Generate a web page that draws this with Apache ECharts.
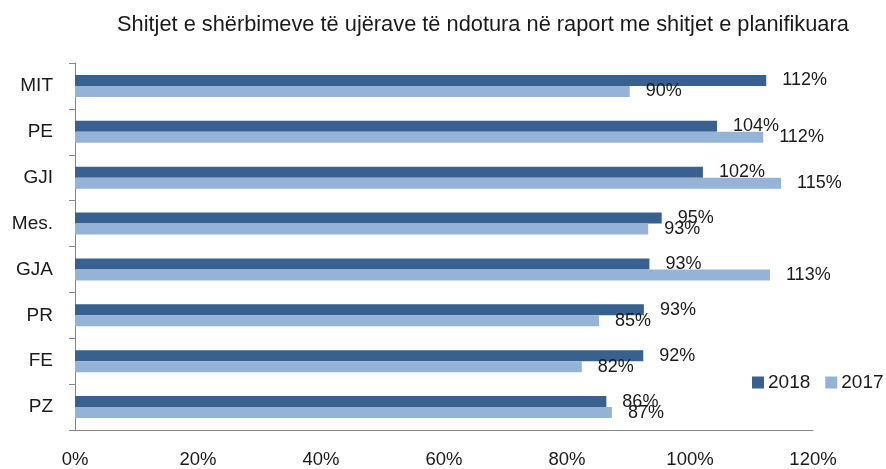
<!DOCTYPE html>
<html>
<head>
<meta charset="utf-8">
<script src="https://cdn.jsdelivr.net/npm/echarts@6/dist/echarts.min.js"></script>
<style>
  html, body { margin: 0; padding: 0; background: #fff; }
  #chart { width: 886px; height: 469px; }
</style>
</head>
<body>
<div id="chart"></div>
<script>
// kategoritë nga lart poshtë
const categories = ["MIT", "PE", "GJI", "Mes.", "GJA", "PR", "FE", "PZ"];
const seriesNames = ["2018", "2017"];
const values2018 = [112.4, 104.4, 102.1, 95.4, 93.4, 92.5, 92.4, 86.4];
const values2017 = [90.2, 111.9, 114.8, 93.2, 113.0, 85.2, 82.4, 87.3];
const xTicks = [0, 20, 40, 60, 80, 100, 120];

const font = "'Liberation Sans', Arial, sans-serif";
const dark = "#386190";
const light = "#95b3d7";

let myChart = echarts.init(document.getElementById("chart"));

const labelOpt = {
  show: true,
  position: "right",
  distance: 16,
  color: "#1a1a1a",
  fontFamily: font,
  fontSize: 18,
  formatter: (p) => Math.round(p.value) + "%",
};

let options = {
  animation: false,
  title: {
    text: "Shitjet e shërbimeve të ujërave të ndotura në raport me shitjet e planifikuara",
    left: 112,
    top: 9,
    textStyle: {
      color: "#1a1a1a",
      fontFamily: font,
      fontSize: 21.8,
      fontWeight: "normal",
    },
  },
  legend: {
    data: seriesNames,
    orient: "horizontal",
    left: 747,
    top: 368,
    width: 200,
    itemWidth: 12,
    itemHeight: 12,
    itemGap: 15,
    icon: "rect",
    textStyle: { color: "#1a1a1a", fontFamily: font, fontSize: 19, padding: [0, 0, 0, -1] },
  },
  grid: { left: 75, right: 73, top: 63, bottom: 39, containLabel: false },
  xAxis: {
    type: "value",
    min: xTicks[0],
    max: xTicks[xTicks.length - 1],
    interval: 20,
    axisLine: { show: true, lineStyle: { color: "#868686", width: 1 } },
    axisTick: { show: false },
    splitLine: { show: false },
    axisLabel: {
      margin: 20,
      color: "#1a1a1a",
      fontFamily: font,
      fontSize: 18.5,
      formatter: "{value}%",
    },
  },
  yAxis: {
    type: "category",
    data: categories,
    inverse: true,
    axisLine: { show: true, lineStyle: { color: "#868686", width: 1 } },
    axisTick: { show: true, length: 6, lineStyle: { color: "#868686" } },
    axisLabel: { margin: 22, color: "#1a1a1a", fontFamily: font, fontSize: 19 },
  },
  series: [
    {
      name: seriesNames[0],
      type: "bar",
      data: values2018,
      barWidth: 11,
      barGap: "0%",
      itemStyle: { color: dark },
      label: labelOpt,
    },
    {
      name: seriesNames[1],
      type: "bar",
      data: values2017,
      barWidth: 11,
      barGap: "0%",
      itemStyle: { color: light },
      label: labelOpt,
    },
  ],
};
myChart.setOption(options);
</script>
</body>
</html>
